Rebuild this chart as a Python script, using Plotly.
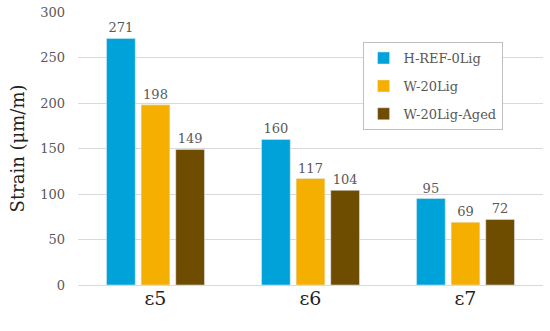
import plotly.graph_objects as go

categories = ["ε5", "ε6", "ε7"]
h_ref = [271, 160, 95]
w_20 = [198, 117, 69]
w_20_aged = [149, 104, 72]
series_names = ["H-REF-0Lig", "W-20Lig", "W-20Lig-Aged"]
colors = ["#00A2DA", "#F5AF00", "#6E4C00"]

font_family = "DejaVu Serif"
fig = go.Figure()
for i, (name, vals, col) in enumerate(zip(series_names, [h_ref, w_20, w_20_aged], colors)):
    fig.add_trace(go.Bar(
        x=categories, y=vals, name=name, marker_color=col, legendgroup=f"g{i}",
        text=[str(v) for v in vals], textposition="outside",
        textfont=dict(family=font_family, size=13, color="#595959"),
        cliponaxis=False,
    ))

fig.update_layout(
    width=550, height=331,
    margin=dict(l=78, r=7, t=12, b=46),
    paper_bgcolor="white", plot_bgcolor="white",
    barmode="group", bargap=0.33, bargroupgap=0.17,
    font=dict(family=font_family, color="#595959"),
    legend=dict(
        x=0.612, y=0.89, xanchor="left", yanchor="top",
        bordercolor="#BFBFBF", borderwidth=1, bgcolor="white",
        font=dict(family=font_family, size=13, color="#595959"),
        tracegroupgap=8, itemwidth=30,
    ),
    showlegend=True,
)
fig.update_yaxes(
    range=[0, 300], dtick=50, showgrid=True, gridcolor="#D9D9D9", gridwidth=1,
    zeroline=True, zerolinecolor="#D9D9D9", zerolinewidth=1,
    tickfont=dict(family=font_family, size=13, color="#595959"),
    ticks="", ticklabelstandoff=12, automargin=False, ticklabeloverflow="allow",
    title=dict(text="Strain (μm/m)", font=dict(family=font_family, size=18, color="#222222"), standoff=10),
)
fig.update_xaxes(
    showline=False, ticks="", automargin=False,
    tickfont=dict(family=font_family, size=19, color="#222222"),
)

fig.write_html(
    "out.html",
    config={"displayModeBar": False},
    post_script="document.body.style.margin='0';document.body.style.padding='0';",
)
